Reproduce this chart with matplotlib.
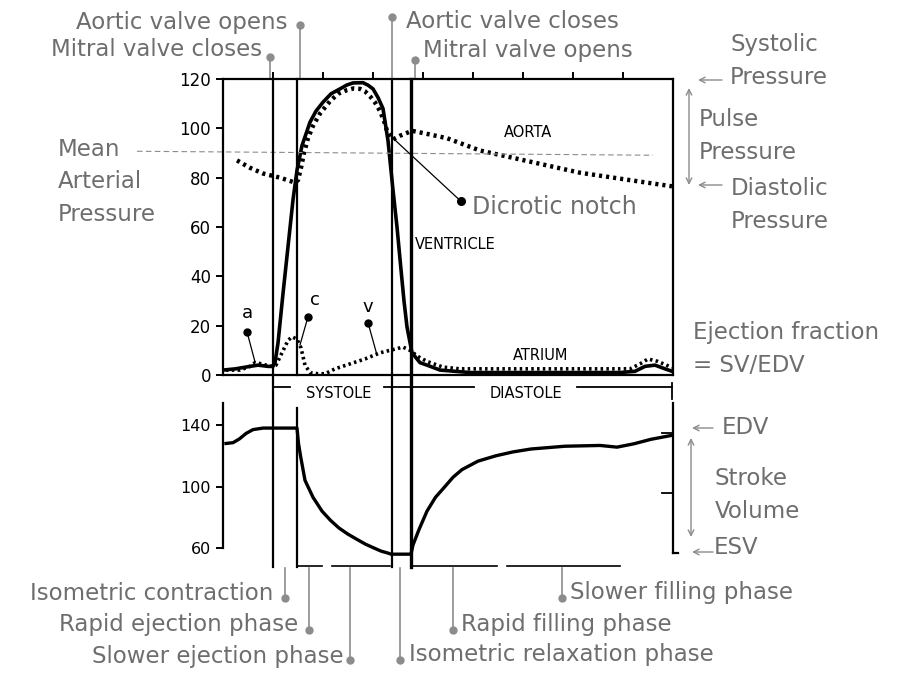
import matplotlib
matplotlib.use("Agg")
import matplotlib.pyplot as plt
from matplotlib.transforms import blended_transform_factory

W, H = 902, 680
GREY = "#6e6e6e"
LGREY = "#8c8c8c"
FS = 16.5

# time axis in ms
t_vent = [0, 25, 54, 70, 90, 100, 104, 110, 120, 130, 140, 148, 158, 174, 186, 200, 216, 234, 248, 260,
          280, 290, 300, 310, 320, 330, 340, 348, 354, 362, 368, 378, 394, 408, 434, 494, 654, 794,
          824, 844, 864, 884, 898]
p_vent = [2, 2.5, 3.5, 4, 3.5, 3.5, 5, 13, 33, 52, 71, 83, 93, 102.5, 107, 110.6, 114, 116, 117.6, 118.4,
          118.5, 117.5, 116, 112.5, 108, 95, 75, 60, 47, 30, 19.5, 9, 5, 4, 2, 1, 1, 1,
          1.5, 3.5, 4, 2.5, 1.5]

t_aorta = [28, 54, 80, 114, 144, 150, 156, 162, 170, 180, 194, 214, 230, 248, 262, 274, 284, 294, 304,
           314, 322, 328, 340, 354, 378, 414, 448, 514, 614, 714, 814, 898]
p_aorta = [87, 84, 81.7, 80, 78, 79, 84, 90, 96, 101, 106, 111, 114, 115.5, 116.2, 116, 115, 113, 110.5,
           107, 103, 99, 95.5, 97, 99, 97.5, 96, 91, 86.5, 82, 79, 76.5]

t_atrium = [6, 34, 54, 64, 78, 94, 106, 118, 130, 138, 148, 156, 164, 174, 190, 204, 224, 254, 284,
            314, 344, 360, 374, 390, 408, 440, 474, 654, 814, 834, 850, 870, 898]
p_atrium = [2, 2, 3.5, 5, 4.5, 3.5, 4, 9, 14, 15.5, 14.5, 11, 4, 1, 0.5, 0.5, 2.5, 4.5, 6.5,
            9, 10.5, 11.3, 10, 7.5, 5.5, 3.2, 2.5, 2.5, 2.5, 4.5, 6.5, 5.5, 3]

t_vol = [6, 20, 33, 46, 60, 80, 148, 151, 155, 164, 180, 198, 215, 232, 250, 268, 285, 302, 316, 330,
         336, 376, 380, 392, 408, 425, 444, 460, 478, 510, 546, 580, 616, 684, 754, 788, 822, 856, 898]
v_vol = [128, 128.5, 131, 134.5, 137, 138, 138, 128, 120, 104, 93, 84, 78, 73, 69, 65.6, 62.5, 60, 58,
         56.7, 56, 56, 62, 72, 84, 93, 100, 106, 111, 116.5, 120, 122.5, 124.4, 126.2, 126.7, 125.6,
         127.8, 130.7, 133.3]

valve_t = [100, 148, 338, 376]
p_ticks = [0, 20, 40, 60, 80, 100, 120]
v_ticks = [60, 100, 140]

plt.rcParams['font.family'] = ['DejaVu Sans']


def fx(x):
    return x / W


def fy(y):
    return 1 - y / H


fig = plt.figure(figsize=(W / 100, H / 100), dpi=100)
ax = fig.add_axes([fx(223), fy(375), (673 - 223) / W, (375 - 79) / H])
ax2 = fig.add_axes([fx(223), fy(563.4), (673 - 223) / W, (563.4 - 394.25) / H])
ax.patch.set_alpha(0)
ax2.patch.set_alpha(0)

# ---- pressure panel
ax.plot(t_vent, p_vent, color='black', lw=2.6, solid_joinstyle='round')
ax.plot(t_aorta, p_aorta, color='black', lw=3.2, ls=(0, (0.7, 0.9)))
ax.plot(t_atrium, p_atrium, color='black', lw=2.6, ls=(0, (0.7, 0.9)))
ax.set_xlim(0, 900)
ax.set_ylim(0, 120)
for s in ax.spines.values():
    s.set_linewidth(1.6)
ax.set_yticks(p_ticks)
ax.set_yticklabels([str(v) for v in p_ticks], fontsize=12)
ax.xaxis.set_ticks_position('top')
ax.set_xticks(range(100, 900, 100))
ax.set_xticklabels([])
ax.tick_params(direction='out', length=5, width=1.4)

ax.text(610, 98.5, "AORTA", fontsize=10.5, ha='center', va='center')
ax.text(464, 52.9, "VENTRICLE", fontsize=10.5, ha='center', va='center')
ax.text(636, 8.1, "ATRIUM", fontsize=10.5, ha='center', va='center')

# mean arterial pressure line
ax.plot([-172, 860], [90.7, 89.1], color=LGREY, lw=0.8, ls=(0, (5, 3)), clip_on=False)

# a, c, v waves
for lab, tt, pt, t0, p0, t1, p1 in [("a", 48, 25.2, 48, 17.5, 64, 5.3),
                                    ("c", 184, 30.5, 170, 23.6, 154, 12.2),
                                    ("v", 290, 27.7, 290, 21.2, 308, 8.1)]:
    ax.plot([t0, t1], [p0, p1], color='black', lw=0.9)
    ax.plot([t0], [p0], 'o', color='black', ms=5)
    ax.text(tt, pt, lab, fontsize=13, ha='center', va='center')

# dicrotic notch
ax.plot([340, 476], [96, 70.4], color='black', lw=0.9, clip_on=False)
ax.plot([476], [70.4], 'o', color='black', ms=5.5, clip_on=False)
fig.text(fx(472), fy(207), "Dicrotic notch", color=GREY, fontsize=17, ha='left', va='center')

# systole / diastole band
for a, b in [(100, 134), (322, 502), (708, 898)]:
    ax.plot([a, b], [-4.9, -4.9], color='black', lw=1.3, clip_on=False)
ax.plot([898, 898], [-3.3, -9.8], color='black', lw=1.3, clip_on=False)
ax.text(232, -7.6, "SYSTOLE", fontsize=10.5, ha='center', va='center')
ax.text(606, -7.6, "DIASTOLE", fontsize=10.5, ha='center', va='center')

# ---- volume panel
ax2.plot(t_vol, v_vol, color='black', lw=2.4, solid_joinstyle='round')
ax2.set_xlim(0, 900)
ax2.set_ylim(50, 160)
ax2.spines['top'].set_visible(False)
ax2.spines['bottom'].set_visible(False)
ax2.spines['left'].set_bounds(60, 154)
ax2.spines['right'].set_bounds(56.5, 154)
for s in ax2.spines.values():
    s.set_linewidth(1.6)
ax2.set_xticks([])
ax2.set_yticks(v_ticks)
ax2.set_yticklabels([str(v) for v in v_ticks], fontsize=11.5)
ax2.tick_params(direction='out', length=5, width=1.4)
rtr = blended_transform_factory(ax2.transAxes, ax2.transData)
for v in [135, 96]:
    ax2.plot([1, 0.975], [v, v], color='black', lw=1.3, transform=rtr, clip_on=False)
ax2.plot([1, 1.012], [56.5, 56.5], color='black', lw=1.6, transform=rtr, clip_on=False)

# ---- valve lines across both panels
tr = blended_transform_factory(ax.transData, fig.transFigure)
for i, t in enumerate(valve_t):
    lw = 2.4 if i == 3 else 1.6
    if i == 1:
        segs = [(79, 375), (408, 567)]
    else:
        segs = [(79, 567)]
    for y0, y1 in segs:
        ax.plot([t, t], [fy(y0), fy(y1)], color='black', lw=lw, transform=tr, clip_on=False)

# bottom ruler
for a, b in [(148, 198), (218, 334), (376, 548), (568, 794)]:
    ax.plot([a, b], [fy(566), fy(566)], color='black', lw=1.2, transform=tr, clip_on=False)


def callout(t, y0, y1, text, tx, ty, ha):
    ax.plot([t, t], [fy(y0), fy(y1)], color=LGREY, lw=1.2, transform=tr, clip_on=False)
    ax.plot([t], [fy(y1)], 'o', color=LGREY, ms=5, transform=tr, clip_on=False)
    fig.text(fx(tx), fy(ty), text, color=GREY, fontsize=FS, ha=ha, va='center')


# top labels
callout(154, 79, 25, "Aortic valve opens", 288, 22, 'right')
callout(94, 79, 57, "Mitral valve closes", 262, 50, 'right')
callout(338, 79, 17, "Aortic valve closes", 406, 22, 'left')
callout(384, 79, 60, "Mitral valve opens", 423, 50, 'left')

# bottom labels
callout(124, 568, 598, "Isometric contraction", 273, 593, 'right')
callout(172, 568, 630, "Rapid ejection phase", 298, 624, 'right')
callout(254, 568, 660, "Slower ejection phase", 344, 656, 'right')
callout(354, 568, 660, "Isometric relaxation phase", 409, 655, 'left')
callout(460, 568, 630, "Rapid filling phase", 461, 625, 'left')
callout(678, 568, 598, "Slower filling phase", 570, 593, 'left')

# left / right side notes
fig.text(fx(58), fy(182), "Mean\nArterial\nPressure", color=GREY, fontsize=FS,
         ha='left', va='center', linespacing=1.55)
fig.text(fx(730), fy(61), "Systolic\nPressure", color=GREY, fontsize=FS,
         ha='left', va='center', linespacing=1.6)
fig.text(fx(699), fy(136), "Pulse\nPressure", color=GREY, fontsize=FS,
         ha='left', va='center', linespacing=1.6)
fig.text(fx(731), fy(205), "Diastolic\nPressure", color=GREY, fontsize=FS,
         ha='left', va='center', linespacing=1.6)
fig.text(fx(693), fy(349), "Ejection fraction\n= SV/EDV", color=GREY, fontsize=FS,
         ha='left', va='center', linespacing=1.6)
fig.text(fx(722), fy(427), "EDV", color=GREY, fontsize=FS, ha='left', va='center')
fig.text(fx(715), fy(495), "Stroke\nVolume", color=GREY, fontsize=FS,
         ha='left', va='center', linespacing=1.6)
fig.text(fx(714), fy(548), "ESV", color=GREY, fontsize=FS, ha='left', va='center')

arrow = dict(arrowstyle='->', color=LGREY, lw=1.0, shrinkA=0, shrinkB=0)
darrow = dict(arrowstyle='<->', color=LGREY, lw=1.0, shrinkA=0, shrinkB=0)
for y, x0, x1 in [(80, 722, 698), (185, 722, 698), (428, 713, 692), (552, 713, 692)]:
    fig.add_artist(plt.Annotation("", xy=(fx(x1), fy(y)), xytext=(fx(x0), fy(y)),
                                  xycoords='figure fraction', arrowprops=arrow))
for x, y0, y1 in [(689, 88, 185), (691, 438, 537)]:
    fig.add_artist(plt.Annotation("", xy=(fx(x), fy(y0)), xytext=(fx(x), fy(y1)),
                                  xycoords='figure fraction', arrowprops=darrow))

fig.savefig("out.png", dpi=100)
